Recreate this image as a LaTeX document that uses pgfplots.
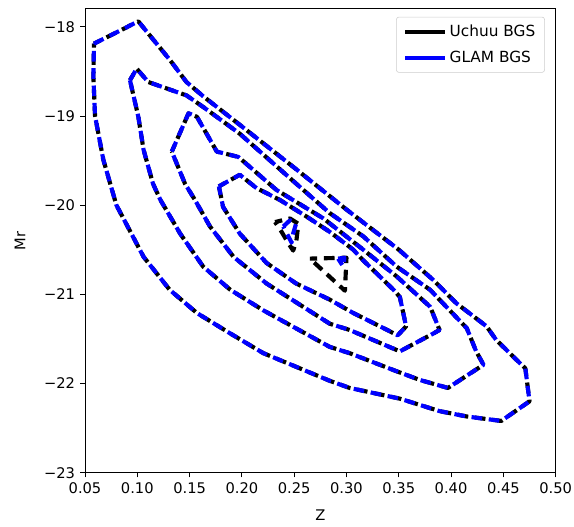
\documentclass[border=0pt]{standalone}
\usepackage{fontspec}
\setmainfont{DejaVu Sans}
\usepackage{pgfplots}
\pgfplotsset{compat=1.18}

\definecolor{glamblue}{RGB}{0,0,255}
\definecolor{legframe}{RGB}{204,204,204}

\pgfplotsset{
  contourbase/.style={no markers, line width=3.1pt, line join=round, line cap=butt,
    dash pattern=on 8pt off 5pt},
  uchuu/.style={contourbase, black, dash phase=2.5pt},
  glam/.style={contourbase, glamblue},
}

\begin{document}
\fontsize{11}{13}\selectfont
\begin{tikzpicture}
\useasboundingbox (0,0) rectangle (430.5pt,394.5pt);
\begin{axis}[
  at={(63.75pt,40pt)}, anchor=south west,
  width=353pt, height=347.85pt, scale only axis,
  xmin=0.05, xmax=0.50, ymin=-23, ymax=-17.8,
  xtick={0.05,0.10,0.15,0.20,0.25,0.30,0.35,0.40,0.45,0.50},
  xticklabels={0.05,0.10,0.15,0.20,0.25,0.30,0.35,0.40,0.45,0.50},
  ytick={-23,-22,-21,-20,-19,-18},
  yticklabels={−23,−22,−21,−20,−19,−18},
  tick align=outside, major tick length=3.6pt,
  tick style={line width=0.6pt, black},
  axis line style={line width=0.6pt},
  tick label style={font=\fontsize{11}{13}\selectfont},
  xtick pos=bottom, ytick pos=left,
  xlabel={Z}, ylabel={Mr},
  label style={font=\fontsize{11}{13}\selectfont},
  xlabel style={at={(axis description cs:0.5,-0.091)}, anchor=center},
  ylabel style={at={(axis description cs:-0.138,0.5)}, anchor=center},
  legend style={at={(axis description cs:0.977,0.983)}, anchor=north east,
    draw=legframe, rounded corners=2pt, fill=white,
    font=\fontsize{11.5}{13}\selectfont,
    inner xsep=5pt, inner ysep=4pt, row sep=5pt},
  legend cell align=left,
  legend image code/.code={\draw[#1, solid, line width=3pt] (0pt,0pt) -- (30pt,0pt);},
]

% ---------------- Uchuu BGS (black) ----------------
\addplot[uchuu] coordinates {
 (0.0586,-18.19) (0.101,-17.94) (0.131,-18.37) (0.147,-18.62) (0.163,-18.78)
 (0.198,-19.10) (0.250,-19.58) (0.300,-20.05) (0.350,-20.50) (0.383,-20.84)
 (0.405,-21.10) (0.434,-21.36) (0.443,-21.51) (0.463,-21.74) (0.471,-21.83)
 (0.475,-22.20) (0.448,-22.42) (0.415,-22.37) (0.389,-22.31) (0.351,-22.17)
 (0.303,-22.05) (0.284,-21.97) (0.2205,-21.66) (0.189,-21.44) (0.157,-21.21)
 (0.131,-20.95) (0.106,-20.58) (0.080,-20.00) (0.0675,-19.49) (0.0596,-19.00)
 (0.058,-18.56) (0.0586,-18.19)
};
\addlegendentry{Uchuu BGS}
\addplot[uchuu, forget plot] coordinates {
 (0.093,-18.60) (0.0994,-18.47) (0.1105,-18.62) (0.147,-18.77) (0.163,-18.90)
 (0.198,-19.20) (0.250,-19.74) (0.284,-20.09) (0.316,-20.35) (0.348,-20.69)
 (0.380,-20.95) (0.415,-21.38) (0.424,-21.64) (0.431,-21.79) (0.397,-22.05)
 (0.370,-21.96) (0.345,-21.85) (0.303,-21.66) (0.284,-21.59) (0.2205,-21.18)
 (0.189,-20.95) (0.163,-20.69) (0.141,-20.32) (0.122,-19.94) (0.115,-19.76)
 (0.106,-19.38) (0.101,-19.01) (0.093,-18.60)
};
\addplot[uchuu, forget plot] coordinates {
 (0.133,-19.40) (0.149,-18.97) (0.157,-19.01) (0.176,-19.40) (0.1966,-19.46)
 (0.233,-19.83) (0.278,-20.15) (0.316,-20.50) (0.348,-20.80) (0.380,-21.14)
 (0.389,-21.40) (0.383,-21.44) (0.351,-21.64) (0.303,-21.40) (0.284,-21.33)
 (0.2237,-20.88) (0.192,-20.58) (0.1695,-20.24) (0.155,-19.94) (0.1456,-19.76)
 (0.133,-19.40)
};
\addplot[uchuu, forget plot] coordinates {
 (0.178,-19.79) (0.198,-19.66) (0.214,-19.81) (0.236,-19.94) (0.262,-20.13)
 (0.284,-20.30) (0.3065,-20.50) (0.316,-20.62) (0.345,-20.95) (0.351,-21.03)
 (0.357,-21.36) (0.349,-21.46) (0.3065,-21.21) (0.284,-21.06) (0.252,-20.88)
 (0.2237,-20.65) (0.198,-20.32) (0.182,-20.02) (0.178,-19.79)
};
\addplot[uchuu, forget plot] coordinates {
 (0.2317,-20.19) (0.246,-20.15) (0.254,-20.21) (0.252,-20.41) (0.249,-20.51)
 (0.2445,-20.43) (0.238,-20.30) (0.2317,-20.19)
};
\addplot[uchuu, forget plot] coordinates {
 (0.265,-20.60) (0.300,-20.59) (0.2985,-20.96) (0.265,-20.60)
};

% ---------------- GLAM BGS (blue) ----------------
\addplot[glam] coordinates {
 (0.0586,-18.19) (0.101,-17.94) (0.131,-18.37) (0.147,-18.62) (0.163,-18.78)
 (0.198,-19.10) (0.250,-19.58) (0.300,-20.05) (0.350,-20.50) (0.383,-20.84)
 (0.405,-21.10) (0.434,-21.36) (0.443,-21.51) (0.463,-21.74) (0.471,-21.83)
 (0.475,-22.20) (0.448,-22.42) (0.415,-22.37) (0.389,-22.31) (0.351,-22.17)
 (0.303,-22.05) (0.284,-21.97) (0.2205,-21.66) (0.189,-21.44) (0.157,-21.21)
 (0.131,-20.95) (0.106,-20.58) (0.080,-20.00) (0.0675,-19.49) (0.0596,-19.00)
 (0.058,-18.56) (0.0586,-18.19)
};
\addlegendentry{GLAM BGS}
\addplot[glam, forget plot] coordinates {
 (0.093,-18.60) (0.0994,-18.47) (0.1105,-18.62) (0.147,-18.77) (0.163,-18.90)
 (0.198,-19.20) (0.250,-19.74) (0.284,-20.09) (0.316,-20.35) (0.348,-20.69)
 (0.380,-20.95) (0.415,-21.38) (0.424,-21.64) (0.431,-21.79) (0.397,-22.05)
 (0.370,-21.96) (0.345,-21.85) (0.303,-21.66) (0.284,-21.59) (0.2205,-21.18)
 (0.189,-20.95) (0.163,-20.69) (0.141,-20.32) (0.122,-19.94) (0.115,-19.76)
 (0.106,-19.38) (0.101,-19.01) (0.093,-18.60)
};
\addplot[glam, forget plot] coordinates {
 (0.133,-19.40) (0.149,-18.97) (0.157,-19.01) (0.176,-19.40) (0.1966,-19.46)
 (0.233,-19.83) (0.278,-20.15) (0.316,-20.50) (0.348,-20.80) (0.380,-21.14)
 (0.389,-21.40) (0.383,-21.44) (0.351,-21.64) (0.303,-21.40) (0.284,-21.33)
 (0.2237,-20.88) (0.192,-20.58) (0.1695,-20.24) (0.155,-19.94) (0.1456,-19.76)
 (0.133,-19.40)
};
\addplot[glam, forget plot] coordinates {
 (0.178,-19.79) (0.198,-19.66) (0.214,-19.81) (0.236,-19.94) (0.262,-20.13)
 (0.284,-20.30) (0.3065,-20.50) (0.316,-20.62) (0.345,-20.95) (0.351,-21.03)
 (0.357,-21.36) (0.349,-21.46) (0.3065,-21.21) (0.284,-21.06) (0.252,-20.88)
 (0.2237,-20.65) (0.198,-20.32) (0.182,-20.02) (0.178,-19.79)
};
\addplot[glam, forget plot] coordinates {
 (0.2396,-20.24) (0.246,-20.17) (0.252,-20.20) (0.249,-20.32) (0.2475,-20.42)
 (0.243,-20.32) (0.2396,-20.24)
};
\addplot[glam, forget plot] coordinates {
 (0.292,-20.60) (0.298,-20.59) (0.297,-20.69) (0.292,-20.60)
};
\end{axis}
\end{tikzpicture}
\end{document}
